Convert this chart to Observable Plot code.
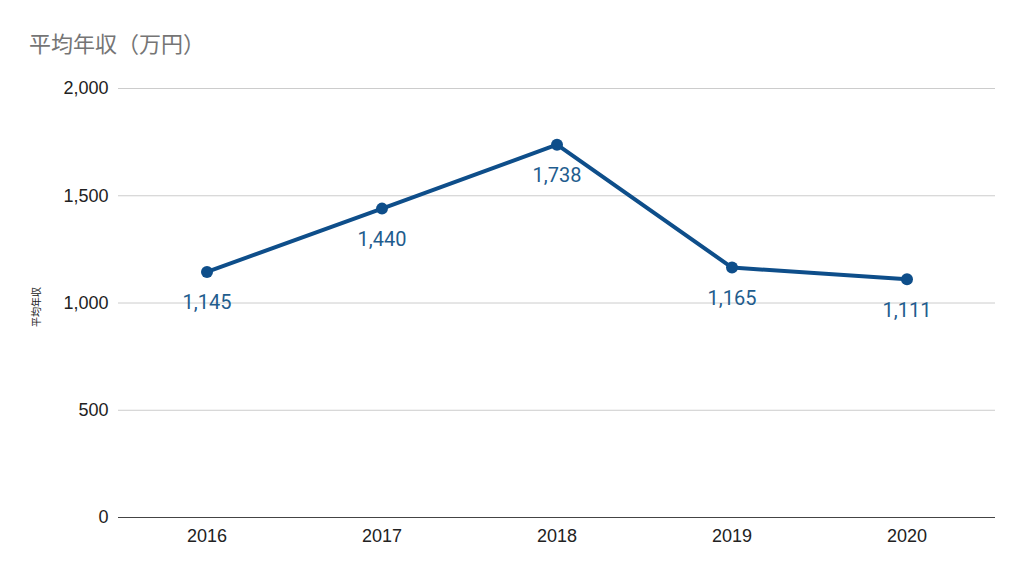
<!DOCTYPE html>
<html><head><meta charset="utf-8">
<script src="https://cdn.jsdelivr.net/npm/d3@7"></script>
<script src="https://cdn.jsdelivr.net/npm/@observablehq/plot@0.6"></script>
<style>
body{margin:0;background:#fff;}
#title{height:41px;padding:29px 0 0 29px;font-family:"Noto Sans CJK JP","Noto Sans",sans-serif;font-size:22px;line-height:26px;color:#757575;}
</style></head><body>
<div id="title">平均年収（万円）</div>
<div id="chart"></div>
<script>
const years = ["2016","2017","2018","2019","2020"];
const salaries = [1145, 1440, 1738, 1165, 1111];
const yTicks = [0, 500, 1000, 1500, 2000];
const yLabel = "平均年収";

const data = years.map((y, i) => ({year: y, value: salaries[i]}));
const fmt = d3.format(",");

const chart = Plot.plot({
  width: 1024,
  height: 507,
  marginLeft: 118,
  marginRight: 29,
  marginTop: 18,
  marginBottom: 60,
  style: {fontFamily: "'Liberation Sans', Arial, sans-serif", fontSize: "18px", color: "#222", background: "#fff"},
  x: {type: "band", domain: years, padding: 0, label: null},
  y: {domain: [0, 2000], ticks: yTicks, tickFormat: fmt, label: null},
  marks: [
    Plot.gridY(yTicks.filter(d => d > 0), {stroke: "#cccccc", strokeOpacity: 1, strokeWidth: 1}),
    Plot.ruleY([0], {stroke: "#444", strokeWidth: 1}),
    Plot.axisX({tickSize: 0, tickPadding: 12, fontSize: 18, label: null}),
    Plot.axisY(yTicks, {tickSize: 0, tickPadding: 10, fontSize: 18, tickFormat: fmt, label: null}),
    Plot.line(data, {x: "year", y: "value", stroke: "#0e4e8a", strokeWidth: 4, strokeLinejoin: "round"}),
    Plot.dot(data, {x: "year", y: "value", r: 6, fill: "#0e4e8a"}),
    Plot.text(data, {x: "year", y: "value", text: d => fmt(d.value), dy: 31, fill: "#1f5d8e", fontSize: 20, fontFamily: "Roboto, sans-serif"}),
    Plot.text([yLabel], {frameAnchor: "left", textAnchor: "middle", dx: -82, dy: 4, rotate: -90, fontSize: 10, fill: "#222", fontFamily: "'Noto Sans CJK JP', sans-serif"})
  ]
});
document.getElementById("chart").appendChild(chart);
</script>
</body></html>
